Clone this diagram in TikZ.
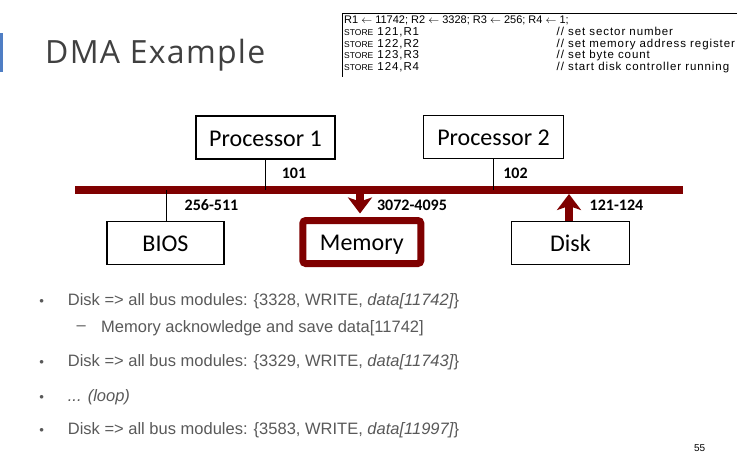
\documentclass[tikz,border=0pt]{standalone}
\usepackage{fontspec}
\setmainfont{Liberation Sans}
\newfontfamily\calfont{Carlito}
\newfontfamily\titlefont[LetterSpace=4]{Open Sans}
\newfontfamily\slidefont{Liberation Sans}
\newfontfamily\codefont[LetterSpace=8]{Liberation Sans}
\usetikzlibrary{arrows.meta}
\definecolor{busred}{HTML}{7F0000}
\definecolor{slidegray}{HTML}{595959}
\definecolor{titlegray}{HTML}{404040}
\definecolor{accentblue}{HTML}{4F7EC4}
\newcommand{\opname}[1]{{\slidefont\fontsize{8.5}{10}\selectfont #1}}
\begin{document}
\begin{tikzpicture}[x=1pt,y=-1pt,
  module/.style={draw=black,line width=1.4pt,fill=white,inner sep=0pt,
    text height=17pt,text depth=0pt,
    font=\calfont\fontsize{24}{28}\selectfont},
  addr/.style={font=\calfont\bfseries\fontsize{16}{18}\selectfont,inner sep=0pt},
  stem/.style={line width=1.2pt,black},
  bus/.style={line width=8pt,busred},
  busarrow/.style={line width=8pt,busred,-{Stealth[width=24pt,length=16pt,inset=4pt]}},
  codeline/.style={anchor=base west,inner sep=0pt,font=\codefont\fontsize{11.5}{12}\selectfont},
  bullettext/.style={anchor=west,inner sep=0pt,text=slidegray,font=\slidefont\fontsize{16.5}{20}\selectfont},
  bulletdot/.style={inner sep=0pt,text=slidegray,font=\slidefont\fontsize{9}{10}\selectfont}]
\useasboundingbox (0,0) rectangle (749,467);

% slide title with accent bar
\fill[accentblue] (0,33) rectangle (2.5,72);
\node[anchor=base west,inner sep=0pt,text=titlegray,font=\titlefont\fontsize{32}{36}\selectfont] (title) at (45,63) {DMA Example};

% program fragment in the top right corner
\coordinate (codeTL) at (342,13);
\coordinate (codeTR) at (737,13);
\coordinate (codeBL) at (342,77);
\draw[line width=0.8pt] (codeTR) -- (codeTL) -- (codeBL);
\node[codeline,font=\slidefont\fontsize{11}{12}\selectfont] (c0) at (344,23) {R1 $\leftarrow$ 11742; R2 $\leftarrow$ 3328; R3 $\leftarrow$ 256; R4 $\leftarrow$ 1;};
\node[codeline] (c1) at (344,35.3) {\opname{STORE} 121,R1};
\node[codeline] (c2) at (344,47) {\opname{STORE} 122,R2};
\node[codeline] (c3) at (344,58.7) {\opname{STORE} 123,R3};
\node[codeline] (c4) at (344,70.3) {\opname{STORE} 124,R4};
\node[codeline] (k1) at (556.5,35.3) {// set sector number};
\node[codeline] (k2) at (556.5,47) {// set memory address register};
\node[codeline] (k3) at (556.5,58.7) {// set byte count};
\node[codeline] (k4) at (556.5,70.3) {// start disk controller running};

% bus and modules
\coordinate (busL) at (75,190);
\coordinate (busR) at (683,190);
\draw[bus] (busL) -- (busR);

\node[module,minimum width=139pt,minimum height=43pt] (p1) at (265.5,137.5) {Processor 1};
\node[module,minimum width=140pt,minimum height=43pt] (p2) at (493.5,137) {Processor 2};
\node[module,minimum width=117pt,minimum height=42.5pt] (bios) at (165.5,243) {BIOS};
\node[module,draw=busred,line width=7pt,rounded corners=3pt,minimum width=118pt,minimum height=43pt] (mem) at (361.8,242) {Memory};
\node[module,minimum width=117.5pt,minimum height=42.5pt] (disk) at (570.5,243) {Disk};

\draw[stem] (p1.south) -- (p1.south |- busL);
\draw[stem] (p2.south) -- (p2.south |- busL);
\draw[stem] (bios.north -| 166.7,0) -- (166.7,190);
\draw[busarrow,shorten >=3.5pt] (360,194) -- (mem.north -| 360,0);
\draw[busarrow,shorten >=4pt] (disk.north -| 569,0) -- (569,190);

\node[addr] (a1) at (294,173) {101};
\node[addr] (a2) at (515.5,173) {102};
\node[addr] (a3) at (211.5,205) {256-511};
\node[addr] (a4) at (412,205) {3072-4095};
\node[addr] (a5) at (616.5,205) {121-124};

% bullet list
\node[bulletdot] (b1) at (41.7,301) {$\bullet$};
\node[bullettext] (t1) at (67.7,301) {Disk => all bus modules: \{3328, WRITE, \textit{data[11742]}\}};
\node[bullettext] (s1) at (76.5,328) {–};
\node[bullettext] (t1a) at (101,328) {Memory acknowledge and save data[11742]};
\node[bulletdot] (b2) at (41.7,362) {$\bullet$};
\node[bullettext] (t2) at (67.7,362) {Disk => all bus modules: \{3329, WRITE, \textit{data[11743]}\}};
\node[bulletdot] (b3) at (41.7,397) {$\bullet$};
\node[bullettext] (t3) at (67.7,397) {\textit{... (loop)}};
\node[bulletdot] (b4) at (41.7,430) {$\bullet$};
\node[bullettext] (t4) at (67.7,430) {Disk => all bus modules: \{3583, WRITE, \textit{data[11997]}\}};

% page number
\node[inner sep=0pt,font=\slidefont\fontsize{10}{12}\selectfont] (page) at (699.7,448.3) {55};
\end{tikzpicture}
\end{document}
